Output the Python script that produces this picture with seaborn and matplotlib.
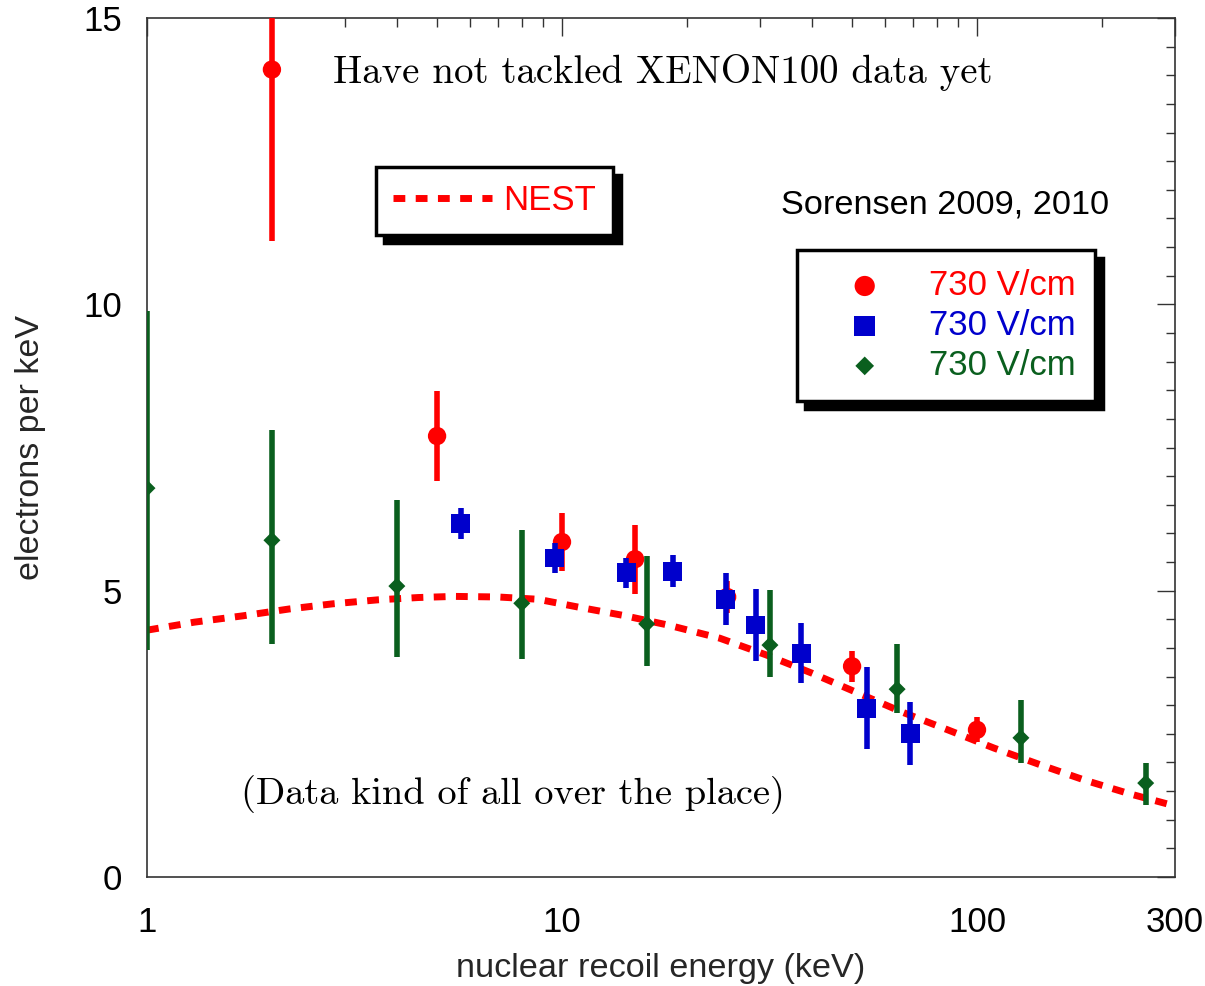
import numpy as np
import pandas as pd
import matplotlib
matplotlib.use("Agg")
import matplotlib.pyplot as plt
import seaborn as sns
from matplotlib.ticker import FixedLocator, NullFormatter, FixedFormatter, MultipleLocator

# ---------------- data ----------------
nest_x = [1, 1.3, 1.7, 2.2, 2.8, 3.6, 4.5, 5.5, 7, 8.75, 11, 14, 18, 24, 31, 40,
          51, 66, 85, 110, 142, 182, 234, 300]
nest_y = [4.31, 4.45, 4.56, 4.68, 4.77, 4.84, 4.88, 4.90, 4.89, 4.85, 4.71, 4.57,
          4.40, 4.17, 3.88, 3.56, 3.23, 2.88, 2.57, 2.25, 1.96, 1.69, 1.45, 1.24]

red_x = [2, 5, 10, 15, 25, 50, 100]
red_y = [14.1, 7.70, 5.85, 5.55, 4.89, 3.68, 2.57]
red_err = [3.0, 0.78, 0.5, 0.6, 0.28, 0.27, 0.22]

blue_x = [5.7, 9.6, 14.3, 18.5, 24.8, 29.3, 37.7, 54.3, 69.0]
blue_y = [6.18, 5.57, 5.31, 5.34, 4.85, 4.40, 3.91, 2.95, 2.51]
blue_err = [0.27, 0.27, 0.26, 0.28, 0.45, 0.63, 0.52, 0.72, 0.55]

green_x = [1.0, 2.0, 4.0, 8.0, 16.0, 31.7, 64.2, 127.6, 255]
green_y = [6.79, 5.88, 5.08, 4.78, 4.42, 4.05, 3.28, 2.43, 1.64]
green_lo = [2.83, 1.81, 1.24, 0.97, 0.74, 0.56, 0.42, 0.44, 0.38]
green_hi = [3.09, 1.92, 1.50, 1.28, 1.18, 0.96, 0.79, 0.66, 0.35]

x_major = [1, 10, 100, 300]
x_major_labels = ["1", "10", "100", "300"]
x_minor = [2, 3, 4, 5, 6, 7, 8, 9, 20, 30, 40, 50, 60, 70, 80, 90, 200]

series_label = "730 V/cm"

RED = "#FF0000"
BLUE = "#0000CC"
GREEN = "#0A5F1E"

# ---------------- style ----------------
sns.set_theme(style="white")
plt.rcParams["font.family"] = ["Liberation Sans", "DejaVu Sans"]

fig = plt.figure(figsize=(12.05, 9.86), dpi=100)
ax = fig.add_axes([147 / 1205, 1 - 877 / 986, 1028 / 1205, 859 / 986])

# NEST curve
nest_df = pd.DataFrame({"E": nest_x, "Q": nest_y})
sns.lineplot(data=nest_df, x="E", y="Q", ax=ax, color=RED, linewidth=5,
             linestyle=(0, (1.7, 1.5)), dash_capstyle="butt", sort=False,
             label="NEST", legend=False, zorder=2)

# error bars
ax.errorbar(red_x, red_y, yerr=red_err, fmt="none", ecolor=RED, elinewidth=4,
            capsize=0, zorder=3)
ax.errorbar(blue_x, blue_y, yerr=blue_err, fmt="none", ecolor=BLUE, elinewidth=4,
            capsize=0, zorder=4)
ax.errorbar(green_x, green_y, yerr=[green_lo, green_hi], fmt="none", ecolor=GREEN,
            elinewidth=4, capsize=0, zorder=5)

# markers
sns.scatterplot(x=red_x, y=red_y, ax=ax, marker="o", s=175, color=RED,
                edgecolor="none", linewidth=0, label=series_label, legend=False, zorder=3.5)
sns.scatterplot(x=blue_x, y=blue_y, ax=ax, marker="s", s=185, color=BLUE,
                edgecolor="none", linewidth=0, label=series_label, legend=False, zorder=4.5)
sns.scatterplot(x=green_x, y=green_y, ax=ax, marker="D", s=75, color=GREEN,
                edgecolor="none", linewidth=0, label=series_label, legend=False, zorder=5.5)

# axes
ax.set_xscale("log")
ax.set_xlim(1, 300)
ax.set_ylim(0, 15)
ax.xaxis.set_major_locator(FixedLocator(x_major))
ax.xaxis.set_major_formatter(FixedFormatter(x_major_labels))
ax.xaxis.set_minor_locator(FixedLocator(x_minor))
ax.xaxis.set_minor_formatter(NullFormatter())
ax.yaxis.set_major_locator(MultipleLocator(5))
ax.yaxis.set_minor_locator(MultipleLocator(0.5))

for s in ax.spines.values():
    s.set_color("#333333")
    s.set_linewidth(1.2)

ax.tick_params(which="both", direction="in", top=True, right=True,
               colors="#333333", labelcolor="black", width=1.0)
ax.tick_params(which="major", length=13, labelsize=25)
ax.tick_params(which="minor", length=6.5)
ax.tick_params(axis="x", which="major", pad=21)
ax.tick_params(axis="y", which="major", pad=18)

ax.set_xlabel("nuclear recoil energy (keV)", fontsize=24.7, labelpad=10)
ax.set_ylabel("electrons per keV", fontsize=24.5, labelpad=27)

# annotations
ax.text(0.502, 0.937, "Have not tackled XENON100 data yet", transform=ax.transAxes,
        family="cmr10", fontsize=28, ha="center", va="center", color="black")
ax.text(0.356, 0.0955, "(Data kind of all over the place)", transform=ax.transAxes,
        family="cmr10", fontsize=27.7, ha="center", va="center", color="black")
ax.text(0.776, 0.782, "Sorensen 2009, 2010", transform=ax.transAxes,
        fontsize=24.7, ha="center", va="center", color="black")

# legends
handles, labels = ax.get_legend_handles_labels()
h_nest = [h for h, l in zip(handles, labels) if l == "NEST"]
h_pts = [h for h, l in zip(handles, labels) if l == series_label]

shadow = {"ox": 6, "oy": -6, "color": "black", "alpha": 1}
leg1 = ax.legend(h_nest, ["NEST"], loc="upper left",
                 bbox_to_anchor=((376 - 147) / 1028, (877 - 167) / 859),
                 borderaxespad=0, fontsize=25, labelcolor=[RED],
                 handlelength=2.85, handletextpad=0.3, borderpad=0.5,
                 fancybox=False, framealpha=1, edgecolor="black", shadow=shadow)
leg1.get_frame().set_linewidth(2.5)
ax.add_artist(leg1)

leg2 = ax.legend(h_pts, [series_label] * 3, loc="upper left",
                 bbox_to_anchor=((797 - 147) / 1028, (877 - 250) / 859),
                 borderaxespad=0, fontsize=25, labelcolor=[RED, BLUE, GREEN],
                 handlelength=2.8, handletextpad=0.45, borderpad=0.55,
                 labelspacing=0.2, fancybox=False, framealpha=1,
                 edgecolor="black", shadow=shadow, markerscale=1.1)
leg2.get_frame().set_linewidth(2.5)

fig.savefig("out.png", dpi=100)
